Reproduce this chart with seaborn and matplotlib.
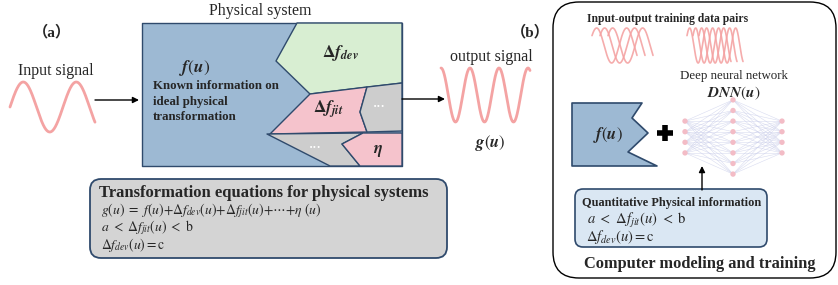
import numpy as np
import pandas as pd
import seaborn as sns
import matplotlib.pyplot as plt
from matplotlib.patches import Polygon, FancyBboxPatch

sns.set_theme(style="white")
plt.rcParams['font.family'] = ['Liberation Serif', 'DejaVu Sans']
plt.rcParams['mathtext.fontset'] = 'stix'

# colours
wave_red = '#F4A3A3'
blue_fill = '#9DB9D3'
edge_blue = '#2F4A6C'
green_fill = '#D8EED2'
pink_fill = '#F5C3CC'
gray_fill = '#CDCDCD'
node_pink = '#F3BCC6'
link_blue = '#C9CDEA'

# texts
panel_labels = ['（a）', '（b）']
signal_labels = ['Input signal', 'output signal']
known_info = ['Known information on', 'ideal physical', 'transformation']
eq_title = 'Transformation equations for physical systems'
eq_lines = [r'$g(u)\ =\ f(u){+}\Delta f_{dev}(u){+}\Delta f_{jit}(u){+}\cdots{+}\eta\ (u)$',
            r'$a\ <\ \Delta f_{jit}(u)\ <\ \mathrm{b}$',
            r'$\Delta f_{dev}(u){=}\mathrm{c}$']
qpi_lines = ['Quantitative Physical information',
             r'$a\ <\ \Delta f_{jit}(u)\ <\ \mathrm{b}$',
             r'$\Delta f_{dev}(u){=}\mathrm{c}$']

# sine waves (period, amplitude in px)
input_period, input_amp = 53, 25
output_period, output_amp = 29, 27
pair_periods = [30, 17]
pair_widths = [45, 44]
pair_shifts = [[0, 8, 16], [0, 6, 12]]

# DNN layer sizes
dnn_layers = [4, 8, 4]

fig = plt.figure(figsize=(8.38, 2.85), dpi=100)
ax = fig.add_axes([0, 0, 1, 1])


def wave(x0, x1, period, amp, mid, phase, kind='sin'):
    x = np.linspace(x0, x1, 300)
    f = np.sin if kind == 'sin' else np.cos
    y = mid - amp * f(2 * np.pi * (x - x0) / period + phase)
    return pd.DataFrame({'x': x, 'y': y})


def poly(pts, fc, ec=edge_blue, lw=1.0):
    ax.add_patch(Polygon(pts, closed=True, fc=fc, ec=ec, lw=lw, joinstyle='round'))


def arrow(x0, y0, x1, y1):
    ax.annotate('', xy=(x1, y1), xytext=(x0, y0),
                arrowprops=dict(arrowstyle='-|>', color='black', lw=1.0,
                                mutation_scale=9, shrinkA=0, shrinkB=0))


label_font = ['Liberation Serif', 'Noto Sans CJK SC', 'DejaVu Sans']

# ---------------- panel (a) ----------------
ax.text(52, 32, panel_labels[0], ha='center', va='center', fontsize=11,
        fontweight='bold', family=label_font)
ax.text(56, 71, signal_labels[0], ha='center', va='center', fontsize=11.5)
sns.lineplot(data=wave(10, 95, input_period, input_amp, 107, 0), x='x', y='y',
             sort=False, estimator=None, color=wave_red, lw=2, ax=ax)
arrow(95, 100, 139, 100)

ax.text(260, 11, 'Physical system', ha='center', va='center', fontsize=11.5)
poly([(142, 23), (402, 23), (402, 166), (142, 166)], blue_fill)
poly([(297, 23), (402, 23), (402, 83), (310, 94), (276, 61)], green_fill)
poly([(310, 94), (367, 87), (360, 112), (367, 132), (270, 134)], pink_fill)
poly([(367, 87), (402, 83), (402, 131), (367, 132), (360, 112)], gray_fill)
poly([(267, 134), (363, 133), (342, 144), (360, 166), (330, 166)], gray_fill)
poly([(363, 133), (402, 133), (402, 166), (360, 166), (342, 144)], pink_fill)

ax.text(195, 68, r'$\mathbfit{f}(\mathbfit{u})$', ha='center', va='center', fontsize=12.5)
for i, line in enumerate(known_info):
    ax.text(153, 86 + 15.5 * i, line, ha='left', va='center', fontsize=9.3,
            fontweight='bold')
ax.text(340, 53, r'$\mathbf{\Delta}\mathbfit{f}_{\mathbfit{dev}}$', ha='center',
        va='center', fontsize=12.5)
ax.text(328, 109, r'$\mathbf{\Delta}\mathbfit{f}_{\mathbfit{jit}}$', ha='center',
        va='center', fontsize=12.5)
ax.text(378, 151, r'$\mathbfit{\eta}$', ha='center', va='center', fontsize=12)
ax.text(379, 107, '···', ha='center', va='center', fontsize=9, color='white',
        fontweight='bold')
ax.text(315, 148, '···', ha='center', va='center', fontsize=9, color='white',
        fontweight='bold')

arrow(402, 99, 445, 99)
ax.text(491, 57, signal_labels[1], ha='center', va='center', fontsize=11.5)
sns.lineplot(data=wave(441, 530, output_period, output_amp, 95, 0, 'cos'), x='x', y='y',
             sort=False, estimator=None, color=wave_red, lw=2, ax=ax)
ax.text(490, 143, r'$\mathbfit{g}(\mathbfit{u})$', ha='center', va='center', fontsize=12)

ax.add_patch(FancyBboxPatch((90, 179), 357, 79, boxstyle='round,pad=0,rounding_size=11',
                            fc='#D4D4D4', ec=edge_blue, lw=1.3))
ax.text(99, 193, eq_title, ha='left', va='center', fontsize=12, fontweight='bold')
for i, line in enumerate(eq_lines):
    ax.text(101, 211 + 17 * i, line, ha='left', va='center', fontsize=9.8)

# ---------------- panel (b) ----------------
ax.text(530, 32, panel_labels[1], ha='center', va='center', fontsize=11,
        fontweight='bold', family=label_font)
ax.add_patch(FancyBboxPatch((553, 2), 283, 276, boxstyle='round,pad=0,rounding_size=26',
                            fc='none', ec='black', lw=1.0))
ax.text(668, 19, 'Input-output training data pairs', ha='center', va='center',
        fontsize=8.4, fontweight='bold')
for x0, width, period, shifts in zip([592, 687], pair_widths, pair_periods, pair_shifts):
    for s in shifts:
        sns.lineplot(data=wave(x0 + s, x0 + s + width, period, 17.5, 45.5, 0.6), x='x', y='y',
                     sort=False, estimator=None, color=wave_red, lw=1.2, alpha=0.9, ax=ax)

ax.text(734, 76, 'Deep neural network', ha='center', va='center', fontsize=9.3)
ax.text(734, 93, r'$\mathbfit{DNN}(\mathbfit{u})$', ha='center', va='center', fontsize=11)

poly([(572, 103), (642, 103), (632, 118), (648, 133), (628, 152), (657, 166), (572, 166)],
     blue_fill, lw=1.2)
ax.text(608, 135, r'$\mathbfit{f}(\mathbfit{u})$', ha='center', va='center', fontsize=12)
ax.plot([657, 673], [133, 133], color='black', lw=4, solid_capstyle='butt')
ax.plot([665, 665], [125, 141], color='black', lw=4, solid_capstyle='butt')

# DNN
layer_x = [685, 733, 782]
nodes = []
for li, (n, lx) in enumerate(zip(dnn_layers, layer_x)):
    ys = 137 + (np.arange(n) - (n - 1) / 2) * 10.6
    nodes.append(pd.DataFrame({'x': lx, 'y': ys, 'layer': li}))
for a, b in zip(nodes[:-1], nodes[1:]):
    for _, p in a.iterrows():
        for _, q in b.iterrows():
            ax.plot([p.x, q.x], [p.y, q.y], color=link_blue, lw=0.4, alpha=0.7, zorder=2)
sns.scatterplot(data=pd.concat(nodes), x='x', y='y', color=node_pink, s=15,
                edgecolor='none', zorder=3, ax=ax, legend=False)

arrow(702, 190, 702, 166)
ax.add_patch(FancyBboxPatch((575, 189), 192, 58, boxstyle='round,pad=0,rounding_size=8',
                            fc='#DAE7F3', ec=edge_blue, lw=1.2))
ax.text(582, 203, qpi_lines[0], ha='left', va='center', fontsize=8.8, fontweight='bold')
ax.text(587, 220, qpi_lines[1], ha='left', va='center', fontsize=10.5)
ax.text(586, 237, qpi_lines[2], ha='left', va='center', fontsize=10.5)
ax.text(700, 264, 'Computer modeling and training', ha='center', va='center',
        fontsize=11.8, fontweight='bold')

ax.set_xlim(0, 838)
ax.set_ylim(285, 0)
ax.set_axis_off()
fig.savefig('out.png', dpi=100)
